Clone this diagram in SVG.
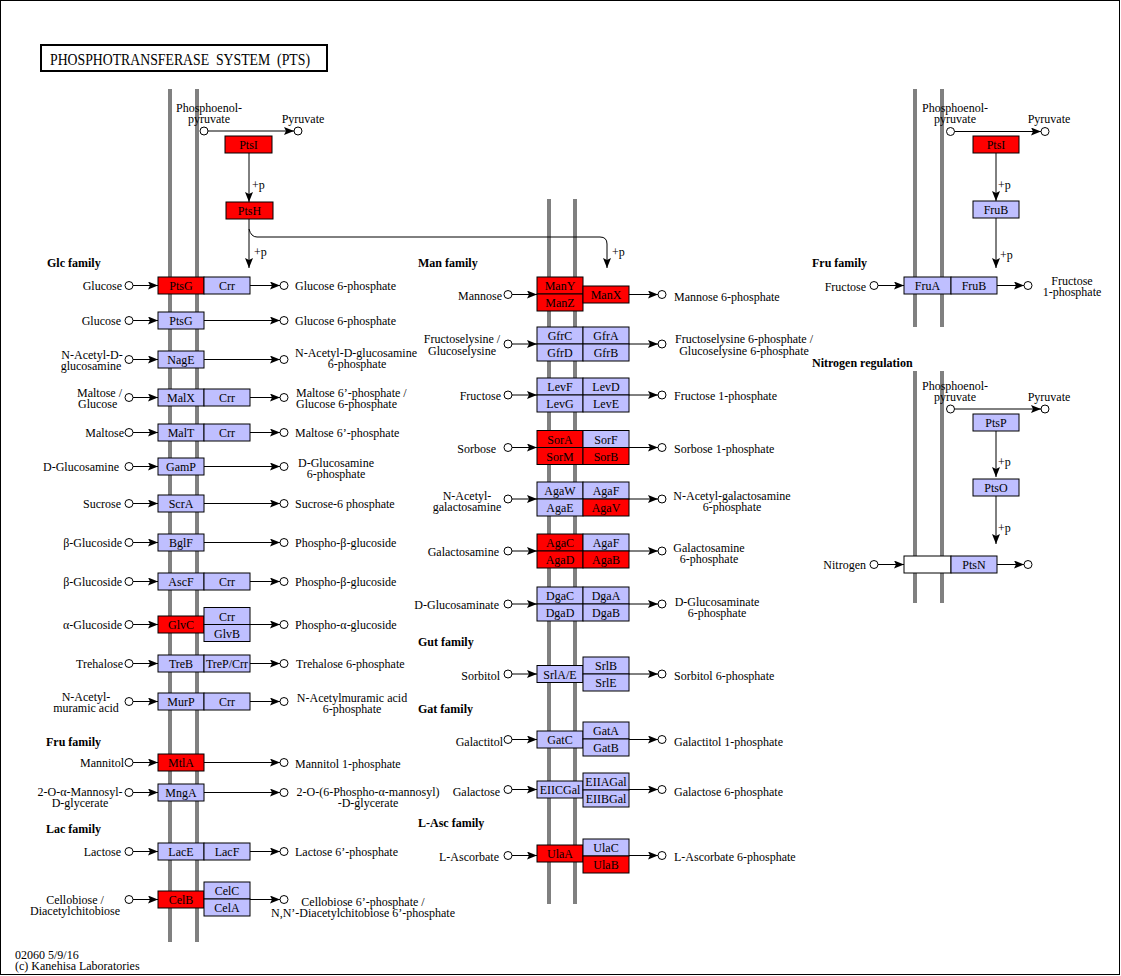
<svg xmlns="http://www.w3.org/2000/svg" width="1121" height="976" viewBox="0 0 1121 976">
<style>
text{font-family:"Liberation Serif","Times New Roman",serif;font-size:12px;fill:#000}
.n{text-anchor:middle}
.e{text-anchor:end}
.f{font-weight:bold}
.t{font-size:16px}
.m{stroke:#808080;stroke-width:4}
.r{fill:#FF0000;stroke:#000;stroke-width:1}
.b{fill:#BFBFFF;stroke:#000;stroke-width:1}
.w{fill:#FFFFFF;stroke:#000;stroke-width:1}
.c{fill:#FFFFFF;stroke:#000;stroke-width:1}
.l{stroke:#000;stroke-width:1;fill:none}
.a{marker-end:url(#ah)}
</style>
<defs>
<marker id="ah" markerWidth="10" markerHeight="8" refX="10" refY="4" orient="auto" markerUnits="userSpaceOnUse"><path d="M0,0 L10,4 L0,8 L2,4 z" fill="#000"/></marker>
</defs>
<rect x="0" y="0" width="1121" height="976" fill="#fff"/>
<rect x="0.5" y="0.5" width="1119" height="974" fill="none" stroke="#000"/>
<g id="title">
<rect x="41" y="45" width="286" height="26" fill="#fff" stroke="#000" stroke-width="2"/>
<text class="t" x="50" y="65" textLength="260" lengthAdjust="spacingAndGlyphs" xml:space="preserve">PHOSPHOTRANSFERASE  SYSTEM  (PTS)</text>
</g>
<g id="membranes">
<line class="m" x1="170" y1="89" x2="170" y2="942"/>
<line class="m" x1="197" y1="89" x2="197" y2="942"/>
<line class="m" x1="549" y1="199" x2="549" y2="904"/>
<line class="m" x1="575" y1="199" x2="575" y2="904"/>
<line class="m" x1="915" y1="89" x2="915" y2="327"/>
<line class="m" x1="942" y1="89" x2="942" y2="327"/>
<line class="m" x1="915" y1="371" x2="915" y2="603"/>
<line class="m" x1="942" y1="371" x2="942" y2="603"/>
</g>
<g id="connectors">
<line class="l a" x1="208" y1="131" x2="294" y2="131"/>
<line class="l a" x1="249" y1="153" x2="249" y2="202"/>
<line class="l a" x1="249" y1="219" x2="249" y2="268"/>
<path class="l a" d="M249,229 Q251,237 257,237 L600,237 Q607,237 607,244 L607,268"/>
<line class="l a" x1="133" y1="285.5" x2="158" y2="285.5"/><line class="l a" x1="250" y1="285.5" x2="280" y2="285.5"/>
<line class="l a" x1="133" y1="320.5" x2="158" y2="320.5"/><line class="l a" x1="204" y1="320.5" x2="280" y2="320.5"/>
<line class="l a" x1="133" y1="359.5" x2="158" y2="359.5"/><line class="l a" x1="204" y1="359.5" x2="280" y2="359.5"/>
<line class="l a" x1="133" y1="397.5" x2="158" y2="397.5"/><line class="l a" x1="250" y1="397.5" x2="280" y2="397.5"/>
<line class="l a" x1="133" y1="432.5" x2="158" y2="432.5"/><line class="l a" x1="250" y1="432.5" x2="280" y2="432.5"/>
<line class="l a" x1="133" y1="466.5" x2="158" y2="466.5"/><line class="l a" x1="204" y1="466.5" x2="280" y2="466.5"/>
<line class="l a" x1="133" y1="503.5" x2="158" y2="503.5"/><line class="l a" x1="204" y1="503.5" x2="280" y2="503.5"/>
<line class="l a" x1="133" y1="542.5" x2="158" y2="542.5"/><line class="l a" x1="204" y1="542.5" x2="280" y2="542.5"/>
<line class="l a" x1="133" y1="581.5" x2="158" y2="581.5"/><line class="l a" x1="250" y1="581.5" x2="280" y2="581.5"/>
<line class="l a" x1="133" y1="624.5" x2="158" y2="624.5"/><line class="l a" x1="250" y1="624.5" x2="280" y2="624.5"/>
<line class="l a" x1="133" y1="663.5" x2="158" y2="663.5"/><line class="l a" x1="250" y1="663.5" x2="280" y2="663.5"/>
<line class="l a" x1="133" y1="701.5" x2="158" y2="701.5"/><line class="l a" x1="250" y1="701.5" x2="280" y2="701.5"/>
<line class="l a" x1="133" y1="762.5" x2="158" y2="762.5"/><line class="l a" x1="204" y1="762.5" x2="280" y2="762.5"/>
<line class="l a" x1="133" y1="792.5" x2="158" y2="792.5"/><line class="l a" x1="204" y1="792.5" x2="280" y2="792.5"/>
<line class="l a" x1="133" y1="851.5" x2="158" y2="851.5"/><line class="l a" x1="250" y1="851.5" x2="280" y2="851.5"/>
<line class="l a" x1="133" y1="899.5" x2="158" y2="899.5"/><line class="l a" x1="250" y1="899.5" x2="280" y2="899.5"/>
<line class="l a" x1="512" y1="294.5" x2="537" y2="294.5"/><line class="l a" x1="629" y1="294.5" x2="658" y2="294.5"/>
<line class="l a" x1="512" y1="344" x2="537" y2="344"/><line class="l a" x1="629" y1="344" x2="658" y2="344"/>
<line class="l a" x1="512" y1="395" x2="537" y2="395"/><line class="l a" x1="629" y1="395" x2="658" y2="395"/>
<line class="l a" x1="512" y1="447.5" x2="537" y2="447.5"/><line class="l a" x1="629" y1="447.5" x2="658" y2="447.5"/>
<line class="l a" x1="512" y1="499" x2="537" y2="499"/><line class="l a" x1="629" y1="499" x2="658" y2="499"/>
<line class="l a" x1="512" y1="551" x2="537" y2="551"/><line class="l a" x1="629" y1="551" x2="658" y2="551"/>
<line class="l a" x1="512" y1="604" x2="537" y2="604"/><line class="l a" x1="629" y1="604" x2="658" y2="604"/>
<line class="l a" x1="512" y1="674" x2="537" y2="674"/><line class="l a" x1="629" y1="674" x2="658" y2="674"/>
<line class="l a" x1="512" y1="739.5" x2="537" y2="739.5"/><line class="l a" x1="629" y1="739.5" x2="658" y2="739.5"/>
<line class="l a" x1="512" y1="789.5" x2="537" y2="789.5"/><line class="l a" x1="629" y1="789.5" x2="658" y2="789.5"/>
<line class="l a" x1="512" y1="855.5" x2="537" y2="855.5"/><line class="l a" x1="629" y1="855.5" x2="658" y2="855.5"/>
<line class="l a" x1="954.5" y1="131.5" x2="1041" y2="131.5"/>
<line class="l a" x1="996" y1="153" x2="996" y2="201"/>
<line class="l a" x1="996" y1="218" x2="996" y2="268"/>
<line class="l a" x1="878" y1="285.5" x2="904" y2="285.5"/><line class="l a" x1="997" y1="285.5" x2="1024" y2="285.5"/>
<line class="l a" x1="954.5" y1="409" x2="1041" y2="409"/>
<line class="l a" x1="996" y1="431" x2="996" y2="477"/>
<line class="l a" x1="996" y1="496" x2="996" y2="544"/>
<line class="l a" x1="878" y1="564.5" x2="904" y2="564.5"/><line class="l a" x1="997" y1="564.5" x2="1024" y2="564.5"/>
</g>
<g id="compounds">
<circle class="c" cx="204" cy="131" r="4"/><circle class="c" cx="298" cy="131" r="4"/>
<circle class="c" cx="129" cy="285.5" r="4"/><circle class="c" cx="284" cy="285.5" r="4"/>
<circle class="c" cx="129" cy="320.5" r="4"/><circle class="c" cx="284" cy="320.5" r="4"/>
<circle class="c" cx="129" cy="359.5" r="4"/><circle class="c" cx="284" cy="359.5" r="4"/>
<circle class="c" cx="129" cy="397.5" r="4"/><circle class="c" cx="284" cy="397.5" r="4"/>
<circle class="c" cx="129" cy="432.5" r="4"/><circle class="c" cx="284" cy="432.5" r="4"/>
<circle class="c" cx="129" cy="466.5" r="4"/><circle class="c" cx="284" cy="466.5" r="4"/>
<circle class="c" cx="129" cy="503.5" r="4"/><circle class="c" cx="284" cy="503.5" r="4"/>
<circle class="c" cx="129" cy="542.5" r="4"/><circle class="c" cx="284" cy="542.5" r="4"/>
<circle class="c" cx="129" cy="581.5" r="4"/><circle class="c" cx="284" cy="581.5" r="4"/>
<circle class="c" cx="129" cy="624.5" r="4"/><circle class="c" cx="284" cy="624.5" r="4"/>
<circle class="c" cx="129" cy="663.5" r="4"/><circle class="c" cx="284" cy="663.5" r="4"/>
<circle class="c" cx="129" cy="701.5" r="4"/><circle class="c" cx="284" cy="701.5" r="4"/>
<circle class="c" cx="129" cy="762.5" r="4"/><circle class="c" cx="284" cy="762.5" r="4"/>
<circle class="c" cx="129" cy="792.5" r="4"/><circle class="c" cx="284" cy="792.5" r="4"/>
<circle class="c" cx="129" cy="851.5" r="4"/><circle class="c" cx="284" cy="851.5" r="4"/>
<circle class="c" cx="129" cy="899.5" r="4"/><circle class="c" cx="284" cy="899.5" r="4"/>
<circle class="c" cx="508" cy="294.5" r="4"/><circle class="c" cx="662" cy="294.5" r="4"/>
<circle class="c" cx="508" cy="344" r="4"/><circle class="c" cx="662" cy="344" r="4"/>
<circle class="c" cx="508" cy="395" r="4"/><circle class="c" cx="662" cy="395" r="4"/>
<circle class="c" cx="508" cy="447.5" r="4"/><circle class="c" cx="662" cy="447.5" r="4"/>
<circle class="c" cx="508" cy="499" r="4"/><circle class="c" cx="662" cy="499" r="4"/>
<circle class="c" cx="508" cy="551" r="4"/><circle class="c" cx="662" cy="551" r="4"/>
<circle class="c" cx="508" cy="604" r="4"/><circle class="c" cx="662" cy="604" r="4"/>
<circle class="c" cx="508" cy="674" r="4"/><circle class="c" cx="662" cy="674" r="4"/>
<circle class="c" cx="508" cy="739.5" r="4"/><circle class="c" cx="662" cy="739.5" r="4"/>
<circle class="c" cx="508" cy="789.5" r="4"/><circle class="c" cx="662" cy="789.5" r="4"/>
<circle class="c" cx="508" cy="855.5" r="4"/><circle class="c" cx="662" cy="855.5" r="4"/>
<circle class="c" cx="950.5" cy="131.5" r="4"/><circle class="c" cx="1045" cy="131.5" r="4"/>
<circle class="c" cx="874" cy="285.5" r="4"/><circle class="c" cx="1028" cy="285.5" r="4"/>
<circle class="c" cx="950.5" cy="409" r="4"/><circle class="c" cx="1045" cy="409" r="4"/>
<circle class="c" cx="874" cy="564.5" r="4"/><circle class="c" cx="1028" cy="564.5" r="4"/>
</g>
<g id="ptsI-1"><rect class="r" x="225" y="136" width="47" height="17"/><text class="n" x="248.5" y="149">PtsI</text></g>
<g id="ptsH-1"><rect class="r" x="226" y="202" width="47" height="17"/><text class="n" x="249.5" y="215">PtsH</text></g>
<g id="ptsG-crr"><rect class="r" x="158" y="277" width="46" height="17"/><text class="n" x="181" y="290">PtsG</text><rect class="b" x="204" y="277" width="46" height="17"/><text class="n" x="227" y="290">Crr</text></g>
<g id="ptsG"><rect class="b" x="158" y="312" width="46" height="17"/><text class="n" x="181" y="325">PtsG</text></g>
<g id="nagE"><rect class="b" x="158" y="351" width="46" height="17"/><text class="n" x="181" y="364">NagE</text></g>
<g id="malX-crr"><rect class="b" x="158" y="389" width="46" height="17"/><text class="n" x="181" y="402">MalX</text><rect class="b" x="204" y="389" width="46" height="17"/><text class="n" x="227" y="402">Crr</text></g>
<g id="malT-crr"><rect class="b" x="158" y="424" width="46" height="17"/><text class="n" x="181" y="437">MalT</text><rect class="b" x="204" y="424" width="46" height="17"/><text class="n" x="227" y="437">Crr</text></g>
<g id="gamP"><rect class="b" x="158" y="458" width="46" height="17"/><text class="n" x="181" y="471">GamP</text></g>
<g id="scrA"><rect class="b" x="158" y="495" width="46" height="17"/><text class="n" x="181" y="508">ScrA</text></g>
<g id="bglF"><rect class="b" x="158" y="534" width="46" height="17"/><text class="n" x="181" y="547">BglF</text></g>
<g id="ascF-crr"><rect class="b" x="158" y="573" width="46" height="17"/><text class="n" x="181" y="586">AscF</text><rect class="b" x="204" y="573" width="46" height="17"/><text class="n" x="227" y="586">Crr</text></g>
<g id="glvC"><rect class="r" x="158" y="616" width="46" height="17"/><text class="n" x="181" y="629">GlvC</text><rect class="b" x="204" y="607.5" width="46" height="17"/><text class="n" x="227" y="620.5">Crr</text><rect class="b" x="204" y="624.5" width="46" height="17"/><text class="n" x="227" y="637.5">GlvB</text></g>
<g id="treB"><rect class="b" x="158" y="655" width="46" height="17"/><text class="n" x="181" y="668">TreB</text><rect class="b" x="204" y="655" width="46" height="17"/><text class="n" x="227" y="668">TreP/Crr</text></g>
<g id="murP"><rect class="b" x="158" y="693" width="46" height="17"/><text class="n" x="181" y="706">MurP</text><rect class="b" x="204" y="693" width="46" height="17"/><text class="n" x="227" y="706">Crr</text></g>
<g id="mtlA"><rect class="r" x="158" y="754" width="46" height="17"/><text class="n" x="181" y="767">MtlA</text></g>
<g id="mngA"><rect class="b" x="158" y="784" width="46" height="17"/><text class="n" x="181" y="797">MngA</text></g>
<g id="lacE"><rect class="b" x="158" y="843" width="46" height="17"/><text class="n" x="181" y="856">LacE</text><rect class="b" x="204" y="843" width="46" height="17"/><text class="n" x="227" y="856">LacF</text></g>
<g id="celB"><rect class="r" x="158" y="891" width="46" height="17"/><text class="n" x="181" y="904">CelB</text><rect class="b" x="204" y="882" width="46" height="17"/><text class="n" x="227" y="895">CelC</text><rect class="b" x="204" y="899" width="46" height="17"/><text class="n" x="227" y="912">CelA</text></g>
<g id="man"><rect class="r" x="537" y="277" width="46" height="17"/><text class="n" x="560" y="290">ManY</text><rect class="r" x="537" y="294" width="46" height="17"/><text class="n" x="560" y="307">ManZ</text><rect class="r" x="583" y="286" width="46" height="17"/><text class="n" x="606" y="299">ManX</text></g>
<g id="gfr"><rect class="b" x="537" y="327" width="46" height="17"/><text class="n" x="560" y="340">GfrC</text><rect class="b" x="583" y="327" width="46" height="17"/><text class="n" x="606" y="340">GfrA</text><rect class="b" x="537" y="344" width="46" height="17"/><text class="n" x="560" y="357">GfrD</text><rect class="b" x="583" y="344" width="46" height="17"/><text class="n" x="606" y="357">GfrB</text></g>
<g id="lev"><rect class="b" x="537" y="378" width="46" height="17"/><text class="n" x="560" y="391">LevF</text><rect class="b" x="583" y="378" width="46" height="17"/><text class="n" x="606" y="391">LevD</text><rect class="b" x="537" y="395" width="46" height="17"/><text class="n" x="560" y="408">LevG</text><rect class="b" x="583" y="395" width="46" height="17"/><text class="n" x="606" y="408">LevE</text></g>
<g id="sor"><rect class="r" x="537" y="430.5" width="46" height="17"/><text class="n" x="560" y="443.5">SorA</text><rect class="b" x="583" y="430.5" width="46" height="17"/><text class="n" x="606" y="443.5">SorF</text><rect class="r" x="537" y="447.5" width="46" height="17"/><text class="n" x="560" y="460.5">SorM</text><rect class="r" x="583" y="447.5" width="46" height="17"/><text class="n" x="606" y="460.5">SorB</text></g>
<g id="aga1"><rect class="b" x="537" y="482" width="46" height="17"/><text class="n" x="560" y="495">AgaW</text><rect class="b" x="583" y="482" width="46" height="17"/><text class="n" x="606" y="495">AgaF</text><rect class="b" x="537" y="499" width="46" height="17"/><text class="n" x="560" y="512">AgaE</text><rect class="r" x="583" y="499" width="46" height="17"/><text class="n" x="606" y="512">AgaV</text></g>
<g id="aga2"><rect class="r" x="537" y="534" width="46" height="17"/><text class="n" x="560" y="547">AgaC</text><rect class="b" x="583" y="534" width="46" height="17"/><text class="n" x="606" y="547">AgaF</text><rect class="r" x="537" y="551" width="46" height="17"/><text class="n" x="560" y="564">AgaD</text><rect class="r" x="583" y="551" width="46" height="17"/><text class="n" x="606" y="564">AgaB</text></g>
<g id="dga"><rect class="b" x="537" y="587" width="46" height="17"/><text class="n" x="560" y="600">DgaC</text><rect class="b" x="583" y="587" width="46" height="17"/><text class="n" x="606" y="600">DgaA</text><rect class="b" x="537" y="604" width="46" height="17"/><text class="n" x="560" y="617">DgaD</text><rect class="b" x="583" y="604" width="46" height="17"/><text class="n" x="606" y="617">DgaB</text></g>
<g id="srl"><rect class="b" x="537" y="665.5" width="46" height="17"/><text class="n" x="560" y="678.5">SrlA/E</text><rect class="b" x="583" y="657" width="46" height="17"/><text class="n" x="606" y="670">SrlB</text><rect class="b" x="583" y="674" width="46" height="17"/><text class="n" x="606" y="687">SrlE</text></g>
<g id="gat"><rect class="b" x="537" y="731" width="46" height="17"/><text class="n" x="560" y="744">GatC</text><rect class="b" x="583" y="722" width="46" height="17"/><text class="n" x="606" y="735">GatA</text><rect class="b" x="583" y="739" width="46" height="17"/><text class="n" x="606" y="752">GatB</text></g>
<g id="eiigal"><rect class="b" x="537" y="781" width="46" height="17"/><text class="n" x="560" y="794">EIICGal</text><rect class="b" x="583" y="773" width="46" height="17"/><text class="n" x="606" y="786">EIIAGal</text><rect class="b" x="583" y="790" width="46" height="17"/><text class="n" x="606" y="803">EIIBGal</text></g>
<g id="ula"><rect class="r" x="537" y="845" width="46" height="17"/><text class="n" x="560" y="858">UlaA</text><rect class="b" x="583" y="839" width="46" height="17"/><text class="n" x="606" y="852">UlaC</text><rect class="r" x="583" y="856" width="46" height="17"/><text class="n" x="606" y="869">UlaB</text></g>
<g id="ptsI-2"><rect class="r" x="973" y="136" width="46" height="17"/><text class="n" x="996" y="149">PtsI</text></g>
<g id="fruB-1"><rect class="b" x="973" y="201" width="46" height="17"/><text class="n" x="996" y="214">FruB</text></g>
<g id="fruA-fruB"><rect class="b" x="904" y="277" width="47" height="17"/><text class="n" x="927.5" y="290">FruA</text><rect class="b" x="951" y="277" width="46" height="17"/><text class="n" x="974" y="290">FruB</text></g>
<g id="ptsP"><rect class="b" x="973" y="414" width="46" height="17"/><text class="n" x="996" y="427">PtsP</text></g>
<g id="ptsO"><rect class="b" x="973" y="479" width="46" height="17"/><text class="n" x="996" y="492">PtsO</text></g>
<g id="ptsN"><rect class="w" x="904" y="556" width="47" height="17"/><rect class="b" x="951" y="556" width="46" height="17"/><text class="n" x="974" y="569">PtsN</text></g>
<g id="labels">
<text class="n" x="209" y="112">Phosphoenol-</text><text class="n" x="209" y="123">pyruvate</text>
<text class="n" x="303" y="123">Pyruvate</text>
<text x="252" y="189">+p</text><text x="254" y="256">+p</text><text x="612" y="256">+p</text>
<text class="n" x="955" y="112">Phosphoenol-</text><text class="n" x="955" y="123">pyruvate</text>
<text class="n" x="1049" y="123">Pyruvate</text>
<text x="998" y="189">+p</text><text x="1000" y="259">+p</text>
<text class="n" x="955" y="390">Phosphoenol-</text><text class="n" x="955" y="401">pyruvate</text>
<text class="n" x="1049" y="401">Pyruvate</text>
<text x="998" y="466">+p</text><text x="998" y="532">+p</text>
<text class="f" x="47" y="267">Glc family</text>
<text class="f" x="46" y="746">Fru family</text>
<text class="f" x="46" y="833">Lac family</text>
<text class="f" x="418" y="267">Man family</text>
<text class="f" x="418" y="646">Gut family</text>
<text class="f" x="418" y="713">Gat family</text>
<text class="f" x="418" y="827">L-Asc family</text>
<text class="f" x="812" y="267">Fru family</text>
<text class="f" x="812" y="367">Nitrogen regulation</text>
<text class="e" x="122" y="290">Glucose</text>
<text class="e" x="121" y="325">Glucose</text>
<text class="n" x="92" y="359">N-Acetyl-D-</text><text class="n" x="91" y="370">glucosamine</text>
<text x="77" y="397">Maltose /</text><text x="78" y="408">Glucose</text>
<text class="e" x="124" y="437">Maltose</text>
<text class="e" x="119" y="471">D-Glucosamine</text>
<text class="e" x="121" y="508">Sucrose</text>
<text class="e" x="122" y="547">β-Glucoside</text>
<text class="e" x="122" y="586">β-Glucoside</text>
<text class="e" x="122" y="629">α-Glucoside</text>
<text class="e" x="123" y="668">Trehalose</text>
<text class="n" x="86" y="701">N-Acetyl-</text><text class="n" x="86" y="712">muramic acid</text>
<text class="e" x="124" y="767">Mannitol</text>
<text class="n" x="80" y="796">2-O-α-Mannosyl-</text><text class="n" x="80" y="807">D-glycerate</text>
<text class="e" x="121" y="856">Lactose</text>
<text class="n" x="75" y="904">Cellobiose /</text><text class="n" x="75" y="915">Diacetylchitobiose</text>
<text x="295" y="290">Glucose 6-phosphate</text>
<text x="295" y="325">Glucose 6-phosphate</text>
<text class="n" x="356" y="357">N-Acetyl-D-glucosamine</text><text class="n" x="357" y="368">6-phosphate</text>
<text x="296" y="397">Maltose 6’-phosphate /</text><text x="296" y="408">Glucose 6-phosphate</text>
<text x="295" y="437">Maltose 6’-phosphate</text>
<text class="n" x="336" y="467">D-Glucosamine</text><text class="n" x="336" y="478">6-phosphate</text>
<text x="295" y="508">Sucrose-6 phosphate</text>
<text x="295" y="547">Phospho-β-glucoside</text>
<text x="295" y="586">Phospho-β-glucoside</text>
<text x="295" y="629">Phospho-α-glucoside</text>
<text x="296" y="668">Trehalose 6-phosphate</text>
<text class="n" x="352" y="702">N-Acetylmuramic acid</text><text class="n" x="352" y="713">6-phosphate</text>
<text x="295" y="768">Mannitol 1-phosphate</text>
<text class="n" x="368" y="796">2-O-(6-Phospho-α-mannosyl)</text><text class="n" x="368" y="807">-D-glycerate</text>
<text x="295" y="856">Lactose 6’-phosphate</text>
<text class="n" x="363" y="906">Cellobiose 6’-phosphate /</text><text class="n" x="363" y="917">N,N’-Diacetylchitobiose 6’-phosphate</text>
<text class="e" x="502" y="300">Mannose</text>
<text class="n" x="462" y="343">Fructoselysine /</text><text class="n" x="462" y="355">Glucoselysine</text>
<text class="e" x="501" y="400">Fructose</text>
<text class="e" x="496" y="453">Sorbose</text>
<text class="n" x="467" y="500">N-Acetyl-</text><text class="n" x="467" y="511">galactosamine</text>
<text class="e" x="499" y="556">Galactosamine</text>
<text class="e" x="499" y="609">D-Glucosaminate</text>
<text class="e" x="500" y="680">Sorbitol</text>
<text class="e" x="503" y="746">Galactitol</text>
<text class="e" x="500" y="796">Galactose</text>
<text class="e" x="499" y="861">L-Ascorbate</text>
<text x="674" y="301">Mannose 6-phosphate</text>
<text class="n" x="744" y="343">Fructoselysine 6-phosphate /</text><text class="n" x="744" y="355">Glucoselysine 6-phosphate</text>
<text x="674" y="400">Fructose 1-phosphate</text>
<text x="674" y="453">Sorbose 1-phosphate</text>
<text class="n" x="732" y="500">N-Acetyl-galactosamine</text><text class="n" x="732" y="511">6-phosphate</text>
<text class="n" x="709" y="552">Galactosamine</text><text class="n" x="709" y="563">6-phosphate</text>
<text class="n" x="717" y="606">D-Glucosaminate</text><text class="n" x="717" y="617">6-phosphate</text>
<text x="674" y="680">Sorbitol 6-phosphate</text>
<text x="674" y="746">Galactitol 1-phosphate</text>
<text x="674" y="796">Galactose 6-phosphate</text>
<text x="674" y="861">L-Ascorbate 6-phosphate</text>
<text class="e" x="866" y="291">Fructose</text>
<text class="n" x="1072" y="285">Fructose</text><text class="n" x="1072" y="296">1-phosphate</text>
<text class="e" x="866" y="569">Nitrogen</text>
<text x="15" y="959">02060 5/9/16</text>
<text x="15" y="970">(c) Kanehisa Laboratories</text>
</g>
</svg>
